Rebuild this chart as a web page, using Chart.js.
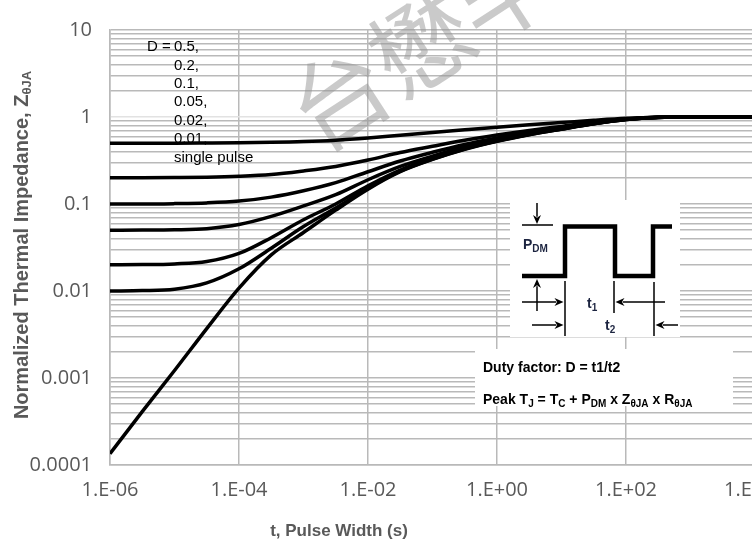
<!DOCTYPE html>
<html>
<head>
  <title>Transient Thermal Impedance</title>
  <meta charset="UTF-8" />
  <script src="https://cdn.jsdelivr.net/npm/chart.js"></script>
  <style>
    html, body {
      margin: 0;
      padding: 0;
      background: #fff;
      overflow: hidden;
    }
    #wrap {
      position: relative;
      width: 752px;
      height: 542px;
      overflow: hidden;
    }
    canvas {
      position: absolute;
      left: 0;
      top: 0;
    }
  </style>
</head>
<body>
  <div id="wrap"><canvas id="zthChart" width="800" height="542"></canvas></div>

  <script>
// pulse width t (s)
const pulseWidth = [1e-6, 3.16e-6, 1e-5, 3.16e-5, 1e-4, 3.16e-4, 1e-3, 3.16e-3, 1e-2, 3.16e-2,
  0.1, 0.316, 1, 3.16, 10, 31.6, 100, 316, 1000, 3162, 10000];

// normalized Zth(ja) per duty factor
const zD050 = [0.5, 0.5, 0.5, 0.502, 0.505, 0.511, 0.522, 0.542, 0.575, 0.618,
  0.663, 0.712, 0.763, 0.813, 0.863, 0.918, 0.968, 0.996, 1, 1, 1];
const zD020 = [0.2, 0.2, 0.201, 0.203, 0.208, 0.218, 0.24, 0.27, 0.32, 0.39,
  0.46, 0.54, 0.62, 0.7, 0.78, 0.868, 0.948, 0.993, 1, 1, 1];
const zD010 = [0.1, 0.1, 0.101, 0.103, 0.108, 0.12, 0.142, 0.176, 0.235, 0.312,
  0.393, 0.483, 0.573, 0.662, 0.752, 0.851, 0.942, 0.992, 1, 1, 1];
const zD005 = [0.05, 0.0501, 0.0505, 0.052, 0.058, 0.072, 0.095, 0.128, 0.19, 0.27,
  0.355, 0.452, 0.548, 0.643, 0.739, 0.843, 0.939, 0.991, 1, 1, 1];
const zD002 = [0.02, 0.0201, 0.0205, 0.0218, 0.027, 0.041, 0.066, 0.1, 0.162, 0.246,
  0.335, 0.434, 0.533, 0.632, 0.731, 0.839, 0.937, 0.99, 1, 1, 1];
const zD001 = [0.01, 0.0101, 0.0105, 0.0124, 0.018, 0.031, 0.055, 0.09, 0.152, 0.238,
  0.328, 0.428, 0.528, 0.628, 0.728, 0.837, 0.936, 0.99, 1, 1, 1];
const zSingle = [0.000135, 0.00041, 0.00122, 0.0037, 0.0108, 0.026, 0.047, 0.085, 0.148, 0.235,
  0.325, 0.425, 0.525, 0.625, 0.725, 0.835, 0.935, 0.99, 1, 1, 1];

const dutyLabels = ['0.5,', '0.2,', '0.1,', '0.05,', '0.02,', '0.01,', 'single pulse'];

const xTickValues = [1e-6, 1e-4, 1e-2, 1, 1e2, 1e4];
const xTickLabels = ['1.E-06', '1.E-04', '1.E-02', '1.E+00', '1.E+02', '1.E+04'];
const yTickValues = [1e-4, 1e-3, 1e-2, 1e-1, 1, 10];
const yTickLabels = ['0.0001', '0.001', '0.01', '0.1', '1', '10'];

// decade ticks plus 2..9 minor lines
const yGridValues = [];
yTickValues.forEach((v, i) => {
  yGridValues.push(v);
  if (i < yTickValues.length - 1) {
    for (let k = 2; k <= 9; k++) yGridValues.push(v * k);
  }
});

const GRID = '#b9b9b9';
const AXIS_TEXT = '#595959';

// draws text runs with subscripts, left aligned, vertically centred on y
function richText(ctx, parts, x, y) {
  let cx = x;
  parts.forEach(p => {
    ctx.font = 'bold ' + p.size + 'px "Liberation Sans", Arial, sans-serif';
    ctx.fillText(p.text, cx, y + (p.dy || 0));
    cx += ctx.measureText(p.text).width;
  });
  return cx - x;
}

function richWidth(ctx, parts) {
  let w = 0;
  parts.forEach(p => {
    ctx.font = 'bold ' + p.size + 'px "Liberation Sans", Arial, sans-serif';
    w += ctx.measureText(p.text).width;
  });
  return w;
}

function arrow(ctx, x1, y1, x2, y2) {
  // thin shaft with a filled head at (x2, y2)
  const a = Math.atan2(y2 - y1, x2 - x1);
  const len = 9, half = 4;
  ctx.beginPath();
  ctx.moveTo(x1, y1);
  ctx.lineTo(x2 - Math.cos(a) * len * 0.8, y2 - Math.sin(a) * len * 0.8);
  ctx.stroke();
  ctx.beginPath();
  ctx.moveTo(x2, y2);
  ctx.lineTo(x2 - Math.cos(a) * len - Math.sin(a) * half, y2 - Math.sin(a) * len + Math.cos(a) * half);
  ctx.lineTo(x2 - Math.cos(a) * len * 0.7, y2 - Math.sin(a) * len * 0.7);
  ctx.lineTo(x2 - Math.cos(a) * len + Math.sin(a) * half, y2 - Math.sin(a) * len - Math.cos(a) * half);
  ctx.closePath();
  ctx.fill();
}

const decorations = {
  id: 'decorations',
  beforeDatasetsDraw(chart) {
    // faint company watermark behind the curves
    const ctx = chart.ctx;
    ctx.save();
    ctx.translate(298, 124);
    ctx.rotate(-33 * Math.PI / 180);
    ctx.font = '98px "Noto Sans CJK SC"';
    ctx.fillStyle = 'rgba(150,150,150,0.5)';
    ctx.textBaseline = 'middle';
    ctx.textAlign = 'left';
    ctx.fillText('台懋半', 0, 0);
    ctx.restore();
  },
  afterDraw(chart) {
    const ctx = chart.ctx;
    ctx.save();

    // duty factor list
    ctx.fillStyle = '#000';
    ctx.textBaseline = 'middle';
    ctx.textAlign = 'left';
    ctx.font = '15px "Liberation Sans", Arial, sans-serif';
    ctx.fillText('D = ', 147, 47);
    dutyLabels.forEach((t, i) => ctx.fillText(t, 174, 47 + i * 18.4));

    // axis titles
    ctx.fillStyle = AXIS_TEXT;
    const yTitle = [
      { text: 'Normalized Thermal Impedance, Z', size: 20 },
      { text: 'θJA', size: 13, dy: 5 }
    ];
    ctx.save();
    ctx.translate(22, 245);
    ctx.rotate(-Math.PI / 2);
    richText(ctx, yTitle, -richWidth(ctx, yTitle) / 2, 0);
    ctx.restore();
    const xTitle = [{ text: 't, Pulse Width (s)', size: 17 }];
    richText(ctx, xTitle, 339 - richWidth(ctx, xTitle) / 2, 531);

    // pulse waveform inset
    ctx.fillStyle = '#fff';
    ctx.fillRect(510, 200, 170, 137);
    ctx.fillRect(475, 349, 258, 57);

    ctx.strokeStyle = '#000';
    ctx.fillStyle = '#000';
    ctx.lineWidth = 4.5;
    ctx.lineJoin = 'miter';
    ctx.beginPath();
    ctx.moveTo(522, 276);
    ctx.lineTo(565, 276);
    ctx.lineTo(565, 226.5);
    ctx.lineTo(615, 226.5);
    ctx.lineTo(615, 276);
    ctx.lineTo(653, 276);
    ctx.lineTo(653, 226.5);
    ctx.lineTo(672, 226.5);
    ctx.stroke();

    ctx.lineWidth = 1.5;
    ctx.beginPath();
    ctx.moveTo(522, 225); ctx.lineTo(553, 225);
    ctx.moveTo(565, 281); ctx.lineTo(565, 336);
    ctx.moveTo(614, 281); ctx.lineTo(614, 313);
    ctx.moveTo(654, 282); ctx.lineTo(654, 336);
    ctx.stroke();
    arrow(ctx, 537, 203, 537, 224);
    arrow(ctx, 537, 311, 537, 279);
    arrow(ctx, 522, 302, 563.5, 302);
    arrow(ctx, 665, 302, 615.5, 302);
    arrow(ctx, 532, 325, 563.5, 325);
    arrow(ctx, 678, 325, 655.5, 325);

    ctx.fillStyle = '#1c2440';
    richText(ctx, [{ text: 'P', size: 14 }, { text: 'DM', size: 10, dy: 4 }], 523, 245);
    richText(ctx, [{ text: 't', size: 14 }, { text: '1', size: 10, dy: 4 }], 587, 304);
    richText(ctx, [{ text: 't', size: 14 }, { text: '2', size: 10, dy: 4 }], 605, 326);

    ctx.fillStyle = '#000';
    richText(ctx, [{ text: 'Duty factor: D = t1/t2', size: 14 }], 483, 368);
    richText(ctx, [
      { text: 'Peak T', size: 14 }, { text: 'J', size: 10, dy: 4 },
      { text: ' = T', size: 14 }, { text: 'C', size: 10, dy: 4 },
      { text: ' + P', size: 14 }, { text: 'DM', size: 10, dy: 4 },
      { text: ' x Z', size: 14 }, { text: 'θJA', size: 10, dy: 4 },
      { text: ' x R', size: 14 }, { text: 'θJA', size: 10, dy: 4 }
    ], 483, 400);

    ctx.restore();
  }
};

const series = [zD050, zD020, zD010, zD005, zD002, zD001, zSingle];

const ctx = document.getElementById('zthChart').getContext('2d');
new Chart(ctx, {
  type: 'line',
  data: {
    datasets: series.map((s, i) => ({
      label: i < 6 ? 'D = ' + dutyLabels[i].replace(',', '') : dutyLabels[i],
      data: pulseWidth.map((t, j) => ({ x: t, y: s[j] })),
      borderColor: '#000',
      borderWidth: 3.5,
      pointRadius: 0,
      cubicInterpolationMode: 'monotone',
      fill: false
    }))
  },
  options: {
    responsive: false,
    animation: false,
    devicePixelRatio: 1,
    layout: { padding: { top: 22, right: 45, left: 0, bottom: 0 } },
    plugins: {
      legend: { display: false },
      tooltip: { enabled: false }
    },
    scales: {
      x: {
        type: 'logarithmic',
        min: 1e-6,
        max: 1e4,
        afterBuildTicks: s => { s.ticks = xTickValues.map(v => ({ value: v })); },
        afterFit: s => { s.height = 77; },
        grid: { color: GRID, lineWidth: 1.5, drawTicks: false },
        border: { color: GRID, width: 1.5 },
        ticks: {
          autoSkip: false,
          maxRotation: 0,
          padding: 13,
          color: AXIS_TEXT,
          font: { family: 'Open Sans', size: 20 },
          callback: (v, i) => xTickLabels[i]
        }
      },
      y: {
        type: 'logarithmic',
        min: 1e-4,
        max: 10,
        afterBuildTicks: s => { s.ticks = yGridValues.map(v => ({ value: v })); },
        afterFit: s => { s.width = 110; },
        grid: {
          color: c => (c.tick && c.tick.value === 1 ? '#e2e2e2' : GRID),
          lineWidth: 1.5,
          drawTicks: false
        },
        border: { color: GRID, width: 1.5 },
        ticks: {
          autoSkip: false,
          padding: 18,
          color: AXIS_TEXT,
          font: { family: 'Open Sans', size: 20 },
          callback: v => {
            const i = yTickValues.indexOf(v);
            return i >= 0 ? yTickLabels[i] : '';
          }
        }
      }
    }
  },
  plugins: [decorations]
});
  </script>
</body>
</html>
